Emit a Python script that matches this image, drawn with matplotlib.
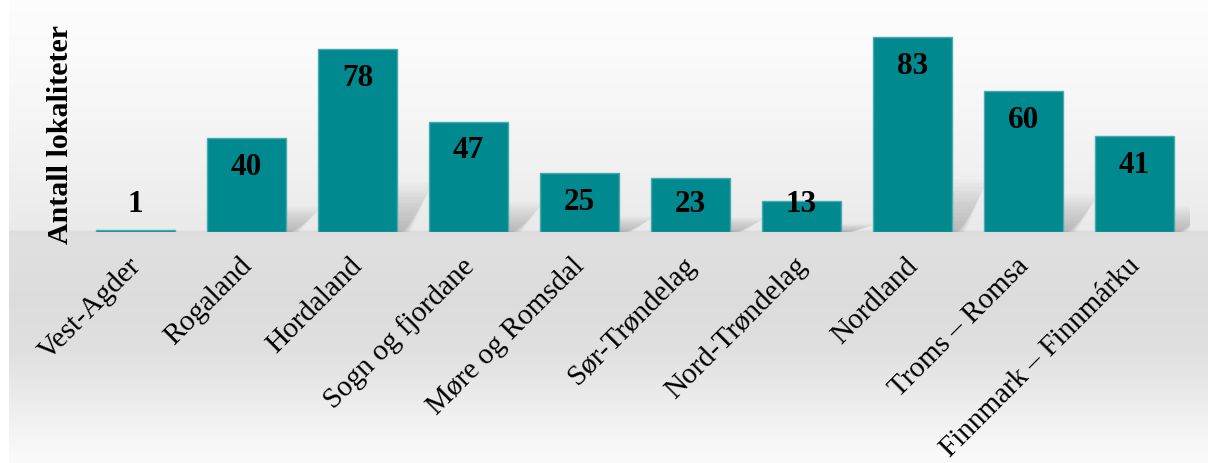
import numpy as np
import matplotlib
matplotlib.use("Agg")
import matplotlib.pyplot as plt
from matplotlib.patches import Polygon
import matplotlib.transforms as mtransforms

regions = ["Vest-Agder", "Rogaland", "Hordaland", "Sogn og fjordane", "Møre og Romsdal",
           "Sør-Trøndelag", "Nord-Trøndelag", "Nordland", "Troms – Romsa", "Finnmark – Finnmárku"]
counts = [1, 40, 78, 47, 25, 23, 13, 83, 60, 41]
ylabel = "Antall lokaliteter"

W, H = 1208, 463
fig = plt.figure(figsize=(W / 100, H / 100), dpi=100)
fig.patch.set_facecolor("white")

# background gradient
bg = fig.add_axes([9 / W, 0, 1 - 9 / W, 1], zorder=0)
stops_px = [0, 50, 100, 150, 200, 229, 231, 233, 236, 300, 350, 400, 440, 463]
stops_v = [0.99, 0.982, 0.968, 0.95, 0.93, 0.918, 0.87, 0.865, 0.878, 0.865, 0.878, 0.925, 0.965, 0.985]
rows = np.interp(np.arange(H), stops_px, stops_v)
img = np.repeat(rows[:, None], 4, axis=1)
bg.imshow(np.dstack([img, img, img]), aspect="auto", extent=[0, 1, 0, 1], interpolation="bilinear")
bg.set_axis_off()

ax_left, ax_right = 80, 1190
base_px, top_px = 232, 30
ax = fig.add_axes([ax_left / W, 1 - base_px / H, (ax_right - ax_left) / W, (base_px - top_px) / H], zorder=2)
ax.patch.set_alpha(0)
px_per_unit = 2.35
ax.set_ylim(0, (base_px - top_px) / px_per_unit)
ax.set_xlim(-0.5, len(regions) - 0.5)

x = np.arange(len(regions))
width = 0.71

# soft perspective shadows
for xi, v in zip(x, counts):
    hs = v * 0.27
    if hs < 1:
        continue
    xr = xi + width / 2
    n = 14
    for i in range(n):
        f = (i + 1) / n
        h = hs * f
        sk = 0.22 * f
        poly = Polygon([(xr - 0.3, 0), (xr + 0.02 + 0.1 * f, 0), (xr + 0.02 + sk + 0.08, h), (xr - 0.3 + sk, h)],
                       closed=True, facecolor="0.4", edgecolor="none", alpha=0.028, zorder=1)
        ax.add_patch(poly)

ax.bar(x, counts, width=width, color="#00898f", edgecolor="#49aab0", linewidth=1.0, zorder=3)

for xi, v in zip(x, counts):
    ypos = max(v - 12.5, 11.5)
    ax.text(xi, ypos, str(v), ha="center", va="center", fontsize=22.5, fontweight="bold",
            family="Liberation Serif", color="black", zorder=4)

ax.set_yticks([])
ax.set_xticks(x)
ax.set_xticklabels(regions, rotation=45, ha="right", rotation_mode="anchor",
                   fontsize=21, family="Liberation Serif", color="black")
ax.tick_params(axis="x", length=0, pad=15)
offset = mtransforms.ScaledTranslation(-8 / 100, 0, fig.dpi_scale_trans)
for lab in ax.get_xticklabels():
    lab.set_transform(lab.get_transform() + offset)
for s in ax.spines.values():
    s.set_visible(False)

fig.text(61 / W, 1 - 135 / H, ylabel, rotation=90, ha="center", va="center",
         fontsize=21.5, fontweight="bold", family="Liberation Serif", color="black", zorder=5)

fig.savefig("out.png", dpi=100)
